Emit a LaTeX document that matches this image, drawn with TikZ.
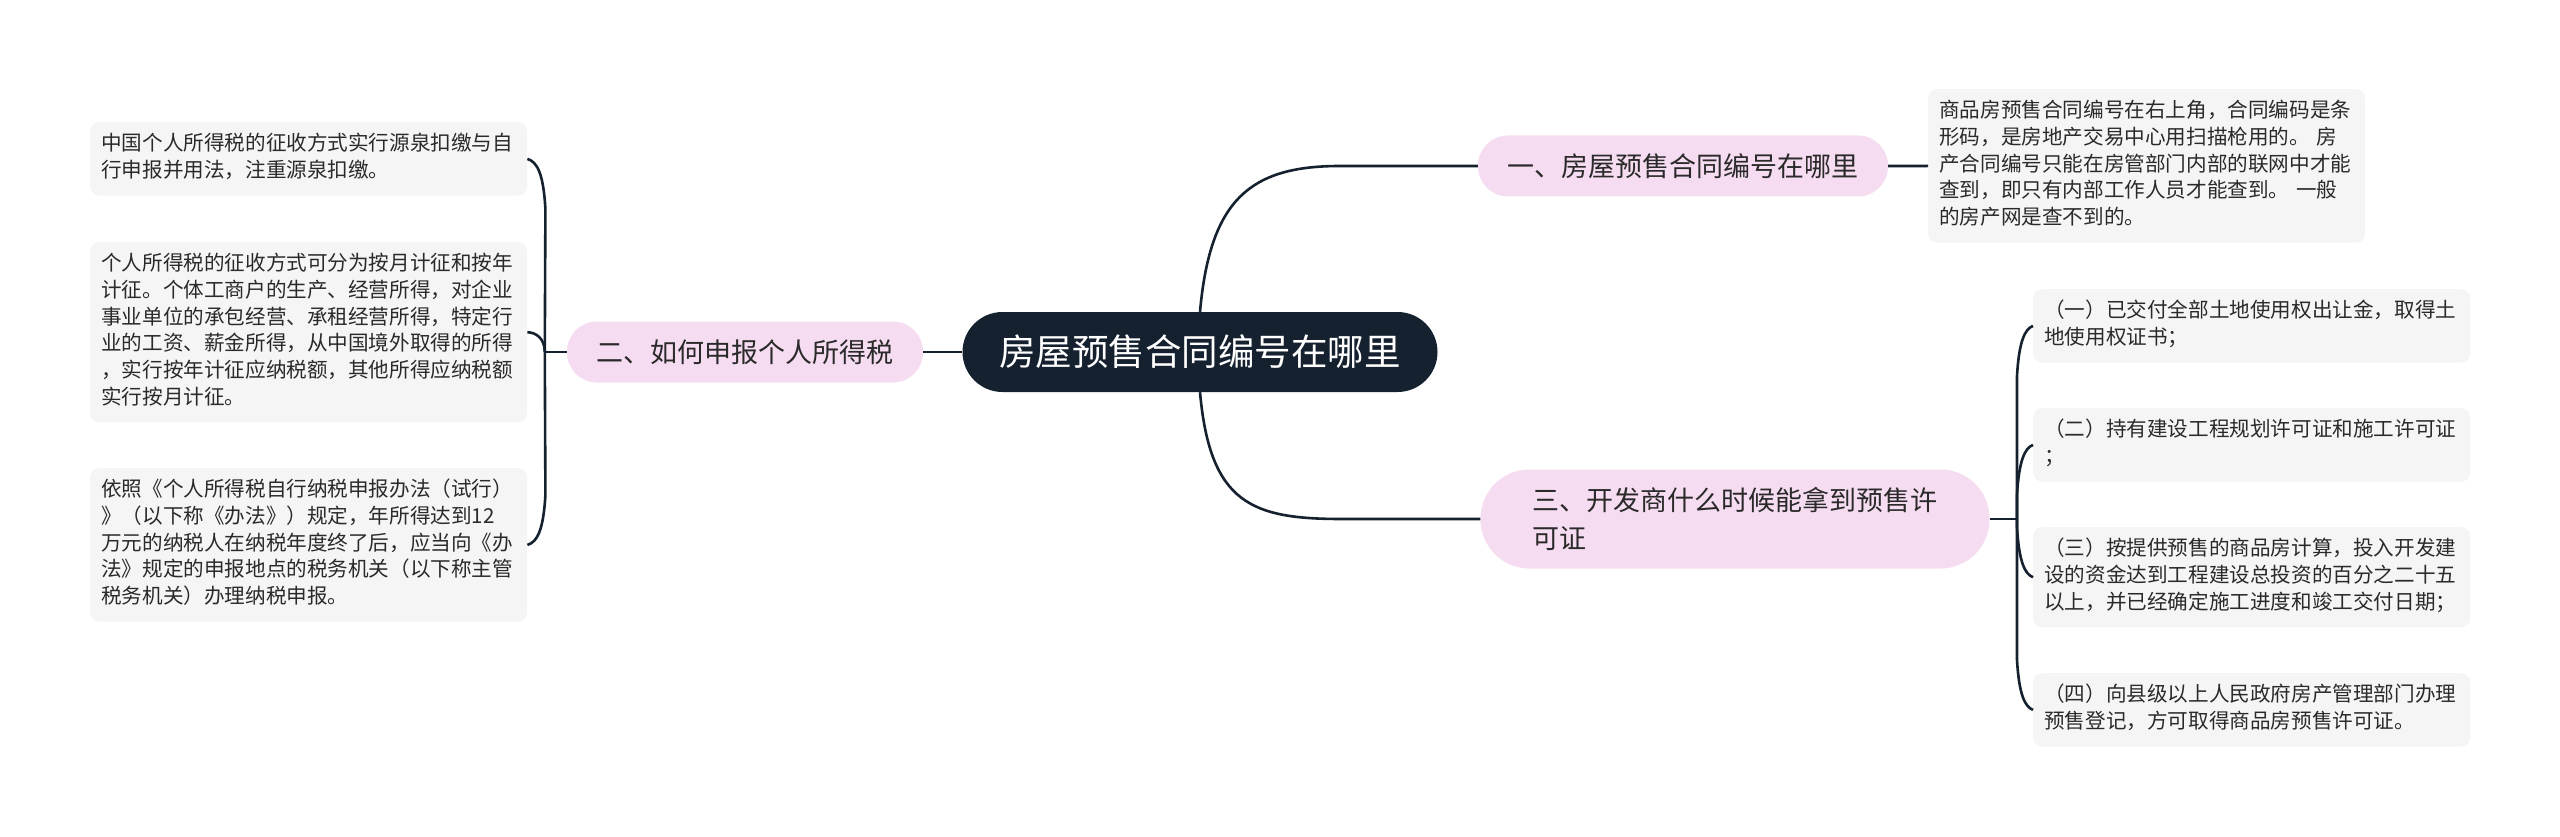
\documentclass[tikz,border=0pt]{standalone}
\usepackage{fontspec}
\setmainfont{Noto Sans CJK SC}
\usetikzlibrary{calc}
\definecolor{navy}{HTML}{162130}
\definecolor{pinkfill}{HTML}{F6DCF0}
\definecolor{boxfill}{HTML}{F5F5F5}
\definecolor{txt}{HTML}{2A2A2A}
\begin{document}
\begin{tikzpicture}[x=1pt,y=-1pt,
 conn/.style={draw=navy, line width=2.6pt},
 pill/.style={fill=pinkfill, text=txt, font=\fontsize{27}{38}\selectfont, inner xsep=0pt, inner ysep=0pt, minimum height=61pt, rounded corners=30pt},
 leaf/.style={fill=boxfill, text=txt, font=\fontsize{20.6}{26.7}\selectfont, text width=415pt, align=left, inner xsep=11pt, inner ysep=10pt, rounded corners=9pt, anchor=north west, execute at begin node=\strut, execute at end node=\strut}]

\fill[white] (0,0) rectangle (2560,837);
\useasboundingbox (0,0) rectangle (2560,837);

\node[fill=navy, text=white, font=\fontsize{36.5}{44}\selectfont, minimum width=475pt, minimum height=80pt, rounded corners=40pt, inner sep=0pt] (root) at (1200,352) {房屋预售合同编号在哪里};

\node[pill, minimum width=410pt] (n1) at (1683,166) {一、房屋预售合同编号在哪里};
\node[pill, minimum width=356pt] (n2) at (745,352) {二、如何申报个人所得税};
\node[pill, text width=405pt, align=left, inner xsep=52pt, minimum height=99pt, rounded corners=49pt] (n3) at (1735,519) {三、开发商什么时候能拿到预售许\\可证};

\node[leaf] (l1) at (90,122) {中国个人所得税的征收方式实行源泉扣缴与自\\行申报并用法，注重源泉扣缴。};
\node[leaf] (l2) at (90,242) {个人所得税的征收方式可分为按月计征和按年\\计征。个体工商户的生产、经营所得，对企业\\事业单位的承包经营、承租经营所得，特定行\\业的工资、薪金所得，从中国境外取得的所得\\，实行按年计征应纳税额，其他所得应纳税额\\实行按月计征。};
\node[leaf] (l3) at (90,468) {依照《个人所得税自行纳税申报办法（试行）\\》（以下称《办法》）规定，年所得达到12\\万元的纳税人在纳税年度终了后，应当向《办\\法》规定的申报地点的税务机关（以下称主管\\税务机关）办理纳税申报。};

\node[leaf] (r1) at (1928,89) {商品房预售合同编号在右上角，合同编码是条\\形码，是房地产交易中心用扫描枪用的。 房\\产合同编号只能在房管部门内部的联网中才能\\查到，即只有内部工作人员才能查到。 一般\\的房产网是查不到的。};
\node[leaf] (r2) at (2033,289) {（一）已交付全部土地使用权出让金，取得土\\地使用权证书；};
\node[leaf] (r3) at (2033,408) {（二）持有建设工程规划许可证和施工许可证\\；};
\node[leaf] (r4) at (2033,527) {（三）按提供预售的商品房计算，投入开发建\\设的资金达到工程建设总投资的百分之二十五\\以上，并已经确定施工进度和竣工交付日期；};
\node[leaf] (r5) at (2033,673) {（四）向县级以上人民政府房产管理部门办理\\预售登记，方可取得商品房预售许可证。};

% root to level 1
\draw[conn] (root.north) .. controls ($(root.north)+(10,-112)$) and ($(n1.west)+(-228,0)$) .. ($(n1.west)+(-138,0)$) -- (n1.west);
\draw[conn] (root.south) .. controls ($(root.south)+(10,112)$) and ($(n3.west)+(-228,0)$) .. ($(n3.west)+(-138,0)$) -- (n3.west);
\draw[conn] (root.west) -- (n2.east);

% n1 to its leaf
\draw[conn] (n1.east) -- (r1.west);

% left brace
\coordinate (jL) at ($(n2.west)+(-22,0)$);
\draw[conn] (n2.west) -- (jL);
\draw[conn] (jL) -- ($(l1.east)+(18,50)$) .. controls ($(l1.east)+(16,15)$) and ($(l1.east)+(10,3)$) .. (l1.east);
\draw[conn] (jL) .. controls ($(jL)+(0,-14)$) and ($(l2.east)+(8,0)$) .. (l2.east);
\draw[conn] (jL) -- ($(l3.east)+(18,-50)$) .. controls ($(l3.east)+(16,-15)$) and ($(l3.east)+(10,-3)$) .. (l3.east);

% right brace
\path (r2.west) ++(-16,0) coordinate (tmpR);
\coordinate (jR) at (n3.east -| tmpR);
\draw[conn] (n3.east) -- (jR);
\draw[conn] (jR) -- ($(r2.west)+(-16,50)$) .. controls ($(r2.west)+(-14,15)$) and ($(r2.west)+(-8,3)$) .. (r2.west);
\draw[conn] (jR) -- ($(r3.west)+(-16,50)$) .. controls ($(r3.west)+(-14,15)$) and ($(r3.west)+(-8,3)$) .. (r3.west);
\draw[conn] (jR) -- ($(r4.west)+(-16,-50)$) .. controls ($(r4.west)+(-14,-15)$) and ($(r4.west)+(-8,-3)$) .. (r4.west);
\draw[conn] (jR) -- ($(r5.west)+(-16,-50)$) .. controls ($(r5.west)+(-14,-15)$) and ($(r5.west)+(-8,-3)$) .. (r5.west);
\end{tikzpicture}
\end{document}
